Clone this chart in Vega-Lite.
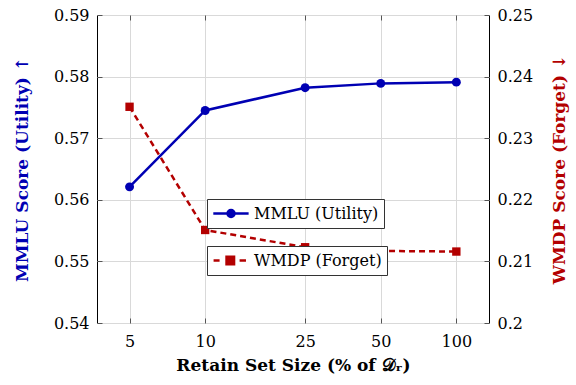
{
  "$schema": "https://vega.github.io/schema/vega-lite/v6.json",
  "width": 392,
  "height": 308,
  "autosize": {"type": "none"},
  "padding": {"left": 97, "top": 15, "right": 87, "bottom": 62},
  "config": {
    "view": {"stroke": "black", "strokeWidth": 1},
    "font": "DejaVu Serif",
    "axis": {
      "labelFont": "DejaVu Serif",
      "labelFontSize": 16,
      "labelColor": "black",
      "titleFont": "DejaVu Serif",
      "titleFontSize": 17,
      "titleFontWeight": "bold",
      "domain": false,
      "tickSize": -5,
      "tickColor": "#555555",
      "tickWidth": 1,
      "gridColor": "#d9d9d9",
      "gridWidth": 1
    }
  },
  "datasets": {
    "mmlu": [
      {"size": 5, "score": 0.5621, "series": "MMLU (Utility)"},
      {"size": 10, "score": 0.5745, "series": "MMLU (Utility)"},
      {"size": 25, "score": 0.5782, "series": "MMLU (Utility)"},
      {"size": 50, "score": 0.5789, "series": "MMLU (Utility)"},
      {"size": 100, "score": 0.5791, "series": "MMLU (Utility)"}
    ],
    "wmdp": [
      {"size": 5, "score": 0.2351, "series": "WMDP (Forget)"},
      {"size": 10, "score": 0.2151, "series": "WMDP (Forget)"},
      {"size": 25, "score": 0.2123, "series": "WMDP (Forget)"},
      {"size": 50, "score": 0.2117, "series": "WMDP (Forget)"},
      {"size": 100, "score": 0.2116, "series": "WMDP (Forget)"}
    ]
  },
  "layer": [
    {
      "data": {"name": "mmlu"},
      "encoding": {
        "x": {
          "field": "size",
          "type": "quantitative",
          "scale": {"type": "log", "domain": [3.71, 134.9], "nice": false},
          "axis": {
            "orient": "bottom",
            "values": [5, 10, 25, 50, 100],
            "format": "d",
            "grid": true,
            "labelPadding": 15,
            "title": "Retain Set Size (% of 𝒟ᵣ)",
            "titleColor": "black",
            "titlePadding": 8
          }
        },
        "y": {
          "field": "score",
          "type": "quantitative",
          "scale": {"domain": [0.54, 0.59], "nice": false, "zero": false},
          "axis": {
            "orient": "left",
            "values": [0.54, 0.55, 0.56, 0.57, 0.58, 0.59],
            "format": ".2f",
            "grid": true,
            "labelPadding": 13,
            "title": "MMLU Score (Utility) ↑",
            "titleColor": "#0000b3",
            "titlePadding": 22
          }
        }
      },
      "layer": [
        {"mark": {"type": "line", "color": "#0000b3", "strokeWidth": 2.5}},
        {
          "mark": {"type": "point", "shape": "circle", "filled": true, "size": 80, "opacity": 1},
          "encoding": {
            "color": {
              "field": "series",
              "type": "nominal",
              "scale": {"range": ["#0000b3"]},
              "legend": {
                "orient": "none",
                "legendX": 110,
                "legendY": 184,
                "title": null,
                "symbolType": "M-1.025,0L3.39,0M0.75,0A0.44,0.44 0 1,1 1.63,0A0.44,0.44 0 1,1 0.75,0Z",
                "symbolSize": 256,
                "symbolStrokeColor": "#0000b3",
                "symbolFillColor": "#0000b3",
                "symbolStrokeWidth": 2.5,
                "symbolOpacity": 1,
                "labelFont": "DejaVu Serif",
                "labelFontSize": 16,
                "labelColor": "black",
                "labelOffset": 23,
                "strokeColor": "#333333",
                "fillColor": "white",
                "padding": 5
              }
            }
          }
        }
      ]
    },
    {
      "data": {"name": "wmdp"},
      "encoding": {
        "x": {
          "field": "size",
          "type": "quantitative",
          "scale": {"type": "log", "domain": [3.71, 134.9], "nice": false},
          "axis": {
            "orient": "top",
            "values": [5, 10, 25, 50, 100],
            "labels": false,
            "grid": false,
            "title": null
          }
        },
        "y": {
          "field": "score",
          "type": "quantitative",
          "scale": {"domain": [0.2, 0.25], "nice": false, "zero": false},
          "axis": {
            "orient": "right",
            "values": [0.2, 0.21, 0.22, 0.23, 0.24, 0.25],
            "format": ".2~f",
            "grid": false,
            "labelPadding": 13,
            "title": "WMDP Score (Forget) ↓",
            "titleColor": "#b30000",
            "titleAngle": 270,
            "titlePadding": 36
          }
        }
      },
      "layer": [
        {"mark": {"type": "line", "color": "#b30000", "strokeWidth": 2.5, "strokeDash": [6, 4]}},
        {
          "mark": {"type": "point", "shape": "square", "filled": true, "size": 70, "opacity": 1},
          "encoding": {
            "color": {
              "field": "series",
              "type": "nominal",
              "scale": {"range": ["#b30000"]},
              "legend": {
                "orient": "none",
                "legendX": 110,
                "legendY": 231,
                "title": null,
                "symbolType": "M-0.99,0L-0.24,0M2.26,0L3.06,0M0.63,-0.47L1.57,-0.47L1.57,0.47L0.63,0.47Z",
                "symbolSize": 256,
                "symbolStrokeColor": "#b30000",
                "symbolFillColor": "#b30000",
                "symbolStrokeWidth": 2.5,
                "symbolOpacity": 1,
                "labelFont": "DejaVu Serif",
                "labelFontSize": 16,
                "labelColor": "black",
                "labelOffset": 23,
                "strokeColor": "#333333",
                "fillColor": "white",
                "padding": 5
              }
            }
          }
        }
      ]
    }
  ],
  "resolve": {
    "scale": {"y": "independent", "color": "independent"},
    "axis": {"x": "independent", "y": "independent"},
    "legend": {"color": "independent"}
  }
}
